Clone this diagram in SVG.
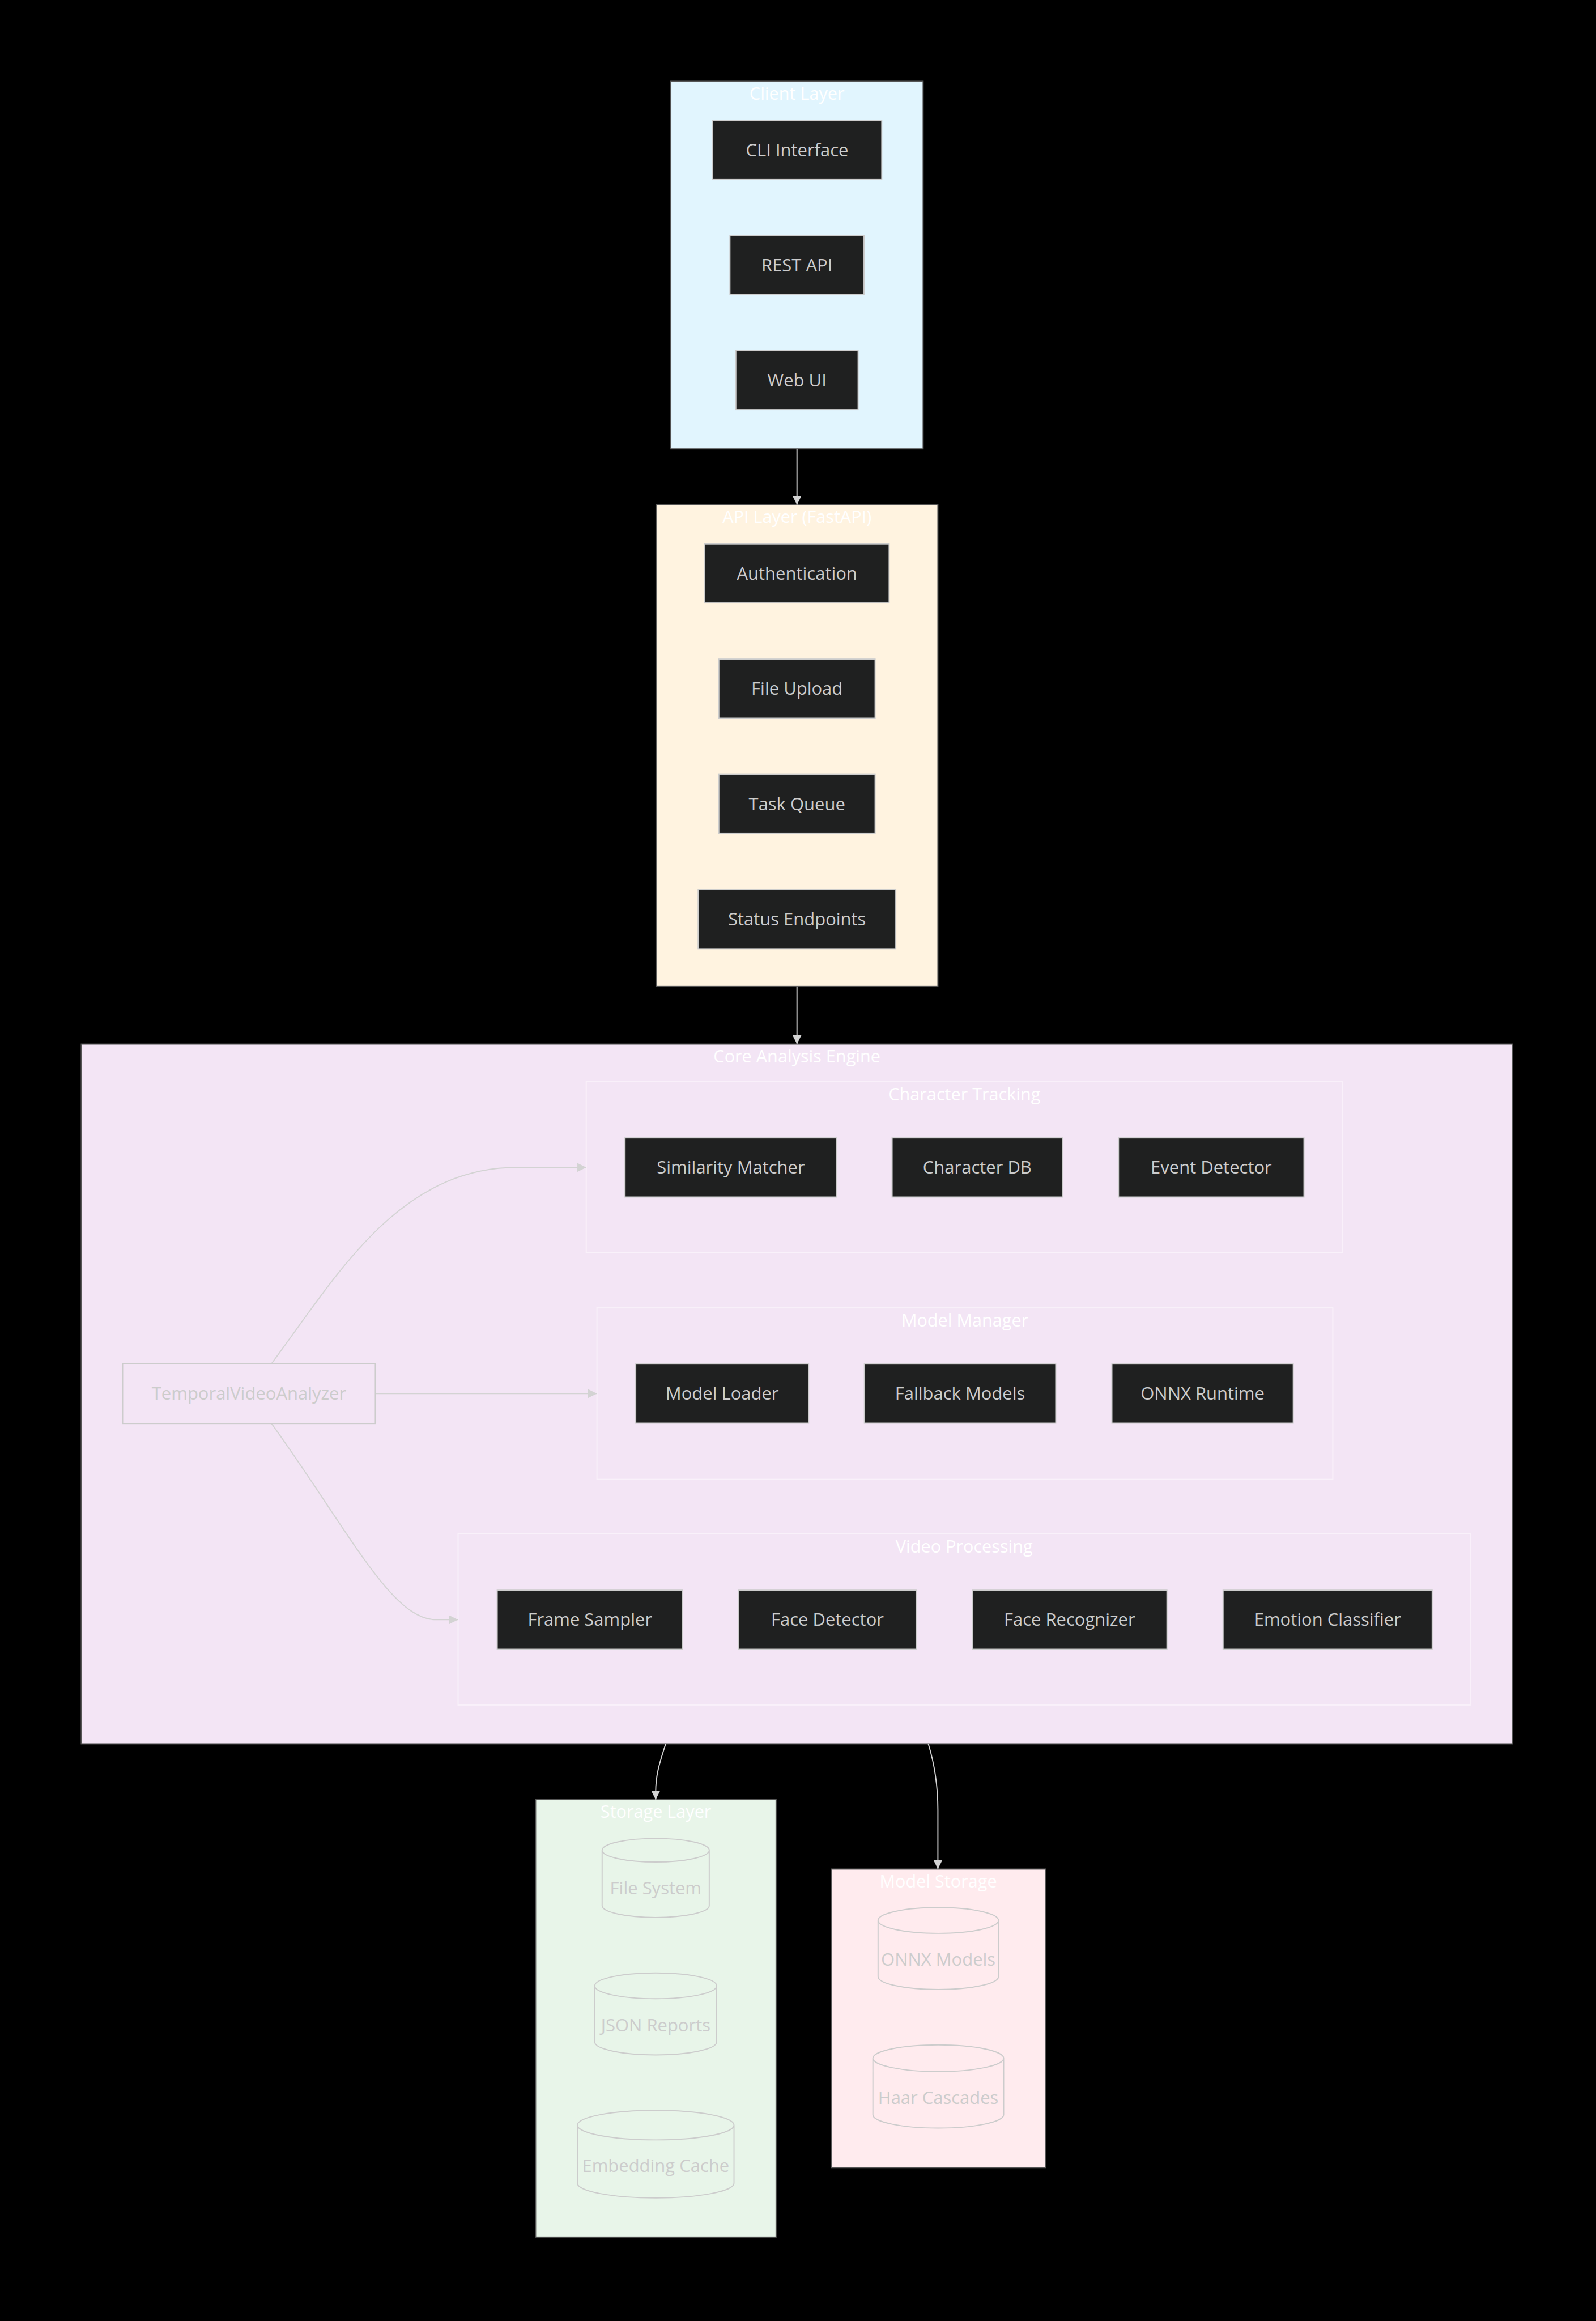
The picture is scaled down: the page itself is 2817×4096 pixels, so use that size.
<svg xmlns="http://www.w3.org/2000/svg" width="2817" height="4096" viewBox="0 0 2817 4096">
<style>
.bg{fill:#000}
.cl{stroke:#555;stroke-width:3}
.sub{fill:#f3e5f5;stroke:#f9f1fa;stroke-width:3}
.title{font-family:"Open Sans","Liberation Sans",sans-serif;font-size:47px;fill:#ffffff;text-anchor:middle}
.node rect{fill:#1f2020;stroke:#cccccc;stroke-width:3}
.lbl{font-family:"Open Sans","Liberation Sans",sans-serif;font-size:47.5px;fill:#cccccc;text-anchor:middle}
.db path{fill:none;stroke:#cccccc;stroke-width:3}
.plain rect{fill:none;stroke:#cccccc;stroke-width:3}
.edge{fill:none;stroke:#d3d3d3;stroke-width:3}
</style>
<defs>
<marker id="arr" viewBox="0 0 10 10" refX="10" refY="5" markerWidth="24" markerHeight="24" markerUnits="userSpaceOnUse" orient="auto">
<path d="M0,0 L10,5 L0,10 z" fill="#d3d3d3"/>
</marker>
</defs>
<rect class="bg" x="0" y="0" width="2817" height="4096"/>
<g transform="scale(0.652)">
<g id="clusters">
<g id="client-layer"><rect class="cl" x="1816" y="220" width="683" height="995" fill="#e1f5fe"/><text class="title" x="2157.5" y="270">Client Layer</text></g>
<g id="api-layer"><rect class="cl" x="1776" y="1366" width="763" height="1304" fill="#fff3e0"/><text class="title" x="2157.5" y="1416">API Layer (FastAPI)</text></g>
<g id="core-engine"><rect class="cl" x="220" y="2826" width="3875" height="1894" fill="#f3e5f5"/><text class="title" x="2157.5" y="2876">Core Analysis Engine</text></g>
<g id="character-tracking"><rect class="sub" x="1587" y="2928" width="2048" height="463"/><text class="title" x="2611" y="2978">Character Tracking</text></g>
<g id="model-manager"><rect class="sub" x="1616" y="3540" width="1992" height="464"/><text class="title" x="2612" y="3591">Model Manager</text></g>
<g id="video-processing"><rect class="sub" x="1240" y="4151" width="2740" height="464"/><text class="title" x="2610" y="4202">Video Processing</text></g>
<g id="storage-layer"><rect class="cl" x="1450" y="4871" width="651" height="1184" fill="#e8f5e9"/><text class="title" x="1775.5" y="4921">Storage Layer</text></g>
<g id="model-storage"><rect class="cl" x="2250" y="5059" width="580" height="808" fill="#ffebee"/><text class="title" x="2540" y="5109">Model Storage</text></g>
</g>
<g id="connectors">
<path class="edge" d="M2157.5,1216 L2157.5,1366" marker-end="url(#arr)"/>
<path class="edge" d="M2157.5,2670 L2157.5,2826" marker-end="url(#arr)"/>
<path class="edge" d="M735,3691 C914,3449 1080,3160 1400,3160 L1587,3160" marker-end="url(#arr)"/>
<path class="edge" d="M1016,3772 L1616,3772" marker-end="url(#arr)"/>
<path class="edge" d="M735,3853 C945,4145 1060,4384 1180,4384 L1240,4384" marker-end="url(#arr)"/>
<path class="edge" d="M1802,4720 C1788,4765 1775,4800 1775,4850 L1775,4871" marker-end="url(#arr)"/>
<path class="edge" d="M2513,4720 C2530,4775 2539,4830 2539,4900 L2539,5059" marker-end="url(#arr)"/>
</g>
<g id="nodes">
<g id="cli-interface" class="node"><rect x="1929" y="326" width="458" height="160"/><text class="lbl" x="2158" y="423">CLI Interface</text></g>
<g id="rest-api" class="node"><rect x="1976" y="637" width="363" height="160"/><text class="lbl" x="2157.5" y="734">REST API</text></g>
<g id="web-ui" class="node"><rect x="1992" y="949" width="331" height="160"/><text class="lbl" x="2157.5" y="1046">Web UI</text></g>
<g id="authentication" class="node"><rect x="1908" y="1472" width="499" height="160"/><text class="lbl" x="2157.5" y="1569">Authentication</text></g>
<g id="file-upload" class="node"><rect x="1946" y="1784" width="423" height="160"/><text class="lbl" x="2157.5" y="1881">File Upload</text></g>
<g id="task-queue" class="node"><rect x="1946" y="2096" width="423" height="160"/><text class="lbl" x="2157.5" y="2193">Task Queue</text></g>
<g id="status-endpoints" class="node"><rect x="1890" y="2408" width="535" height="160"/><text class="lbl" x="2157.5" y="2505">Status Endpoints</text></g>
<g id="temporal-video-analyzer" class="plain"><rect x="332" y="3691" width="684" height="162"/><text class="lbl" x="674" y="3789">TemporalVideoAnalyzer</text></g>
<g id="similarity-matcher" class="node"><rect x="1692" y="3080" width="573" height="160"/><text class="lbl" x="1978.5" y="3177">Similarity Matcher</text></g>
<g id="character-db" class="node"><rect x="2415" y="3080" width="461" height="160"/><text class="lbl" x="2645.5" y="3177">Character DB</text></g>
<g id="event-detector" class="node"><rect x="3028" y="3080" width="502" height="160"/><text class="lbl" x="3279" y="3177">Event Detector</text></g>
<g id="model-loader" class="node"><rect x="1721" y="3692" width="468" height="160"/><text class="lbl" x="1955" y="3789">Model Loader</text></g>
<g id="fallback-models" class="node"><rect x="2340" y="3692" width="518" height="160"/><text class="lbl" x="2599" y="3789">Fallback Models</text></g>
<g id="onnx-runtime" class="node"><rect x="3010" y="3692" width="491" height="160"/><text class="lbl" x="3255.5" y="3789">ONNX Runtime</text></g>
<g id="frame-sampler" class="node"><rect x="1346" y="4304" width="502" height="160"/><text class="lbl" x="1597" y="4401">Frame Sampler</text></g>
<g id="face-detector" class="node"><rect x="2000" y="4304" width="480" height="160"/><text class="lbl" x="2240" y="4401">Face Detector</text></g>
<g id="face-recognizer" class="node"><rect x="2632" y="4304" width="527" height="160"/><text class="lbl" x="2895.5" y="4401">Face Recognizer</text></g>
<g id="emotion-classifier" class="node"><rect x="3311" y="4304" width="566" height="160"/><text class="lbl" x="3594" y="4401">Emotion Classifier</text></g>
<g id="file-system" class="db"><path d="M1630,5008 a145,32 0 0 0 290,0 a145,32 0 0 0 -290,0 l0,150 a145,32 0 0 0 290,0 l0,-150"/><text class="lbl" x="1775" y="5128">File System</text></g>
<g id="json-reports" class="db"><path d="M1610,5375 a165,35 0 0 0 330,0 a165,35 0 0 0 -330,0 l0,152 a165,35 0 0 0 330,0 l0,-152"/><text class="lbl" x="1775" y="5498">JSON Reports</text></g>
<g id="embedding-cache" class="db"><path d="M1563,5752 a212,40 0 0 0 424,0 a212,40 0 0 0 -424,0 l0,157 a212,40 0 0 0 424,0 l0,-157"/><text class="lbl" x="1775" y="5879">Embedding Cache</text></g>
<g id="onnx-models" class="db"><path d="M2377,5198 a163,35 0 0 0 326,0 a163,35 0 0 0 -326,0 l0,152 a163,35 0 0 0 326,0 l0,-152"/><text class="lbl" x="2540" y="5320">ONNX Models</text></g>
<g id="haar-cascades" class="db"><path d="M2363,5571 a177,36 0 0 0 354,0 a177,36 0 0 0 -354,0 l0,153 a177,36 0 0 0 354,0 l0,-153"/><text class="lbl" x="2540" y="5695">Haar Cascades</text></g>
</g>
</g>
</svg>
